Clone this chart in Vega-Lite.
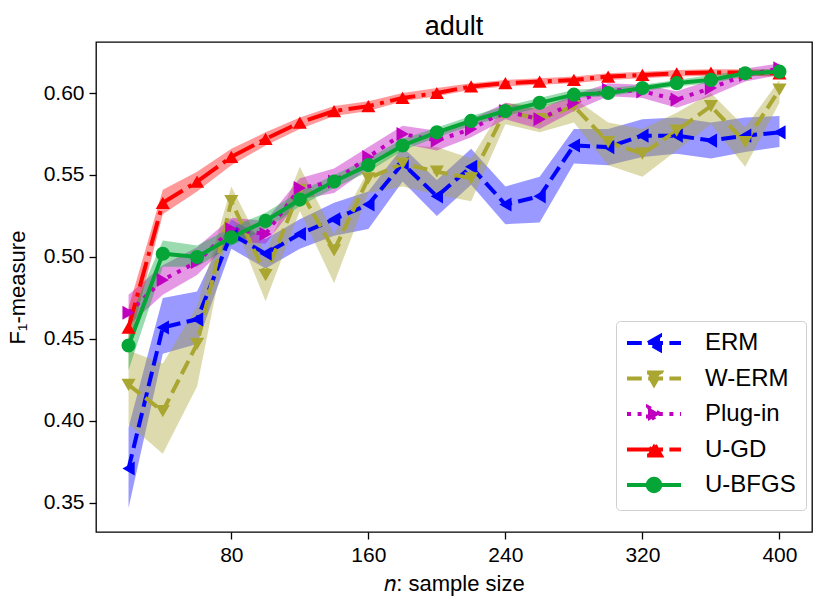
{
  "$schema": "https://vega.github.io/schema/vega-lite/v6.json",
  "width": 716,
  "height": 490,
  "autosize": {"type": "none"},
  "padding": {"left": 96, "top": 42, "right": 19, "bottom": 75},
  "title": {"text": "adult", "fontSize": 27, "font": "Liberation Sans", "fontWeight": "normal", "anchor": "middle", "offset": 1, "color": "black"},
  "data": {"values": [
    {"method": "ERM", "n": 20, "mean": 0.371, "lo": 0.347, "hi": 0.396},
    {"method": "ERM", "n": 40, "mean": 0.457, "lo": 0.441, "hi": 0.475},
    {"method": "ERM", "n": 60, "mean": 0.462, "lo": 0.447, "hi": 0.479},
    {"method": "ERM", "n": 80, "mean": 0.514, "lo": 0.505, "hi": 0.523},
    {"method": "ERM", "n": 100, "mean": 0.502, "lo": 0.493, "hi": 0.511},
    {"method": "ERM", "n": 120, "mean": 0.514, "lo": 0.505, "hi": 0.523},
    {"method": "ERM", "n": 140, "mean": 0.523, "lo": 0.513, "hi": 0.533},
    {"method": "ERM", "n": 160, "mean": 0.532, "lo": 0.517, "hi": 0.540},
    {"method": "ERM", "n": 180, "mean": 0.557, "lo": 0.546, "hi": 0.567},
    {"method": "ERM", "n": 200, "mean": 0.537, "lo": 0.525, "hi": 0.547},
    {"method": "ERM", "n": 220, "mean": 0.555, "lo": 0.544, "hi": 0.566},
    {"method": "ERM", "n": 240, "mean": 0.532, "lo": 0.520, "hi": 0.543},
    {"method": "ERM", "n": 260, "mean": 0.537, "lo": 0.521, "hi": 0.549},
    {"method": "ERM", "n": 280, "mean": 0.568, "lo": 0.557, "hi": 0.578},
    {"method": "ERM", "n": 300, "mean": 0.567, "lo": 0.556, "hi": 0.578},
    {"method": "ERM", "n": 320, "mean": 0.574, "lo": 0.561, "hi": 0.584},
    {"method": "ERM", "n": 340, "mean": 0.574, "lo": 0.563, "hi": 0.585},
    {"method": "ERM", "n": 360, "mean": 0.571, "lo": 0.560, "hi": 0.582},
    {"method": "ERM", "n": 380, "mean": 0.574, "lo": 0.564, "hi": 0.585},
    {"method": "ERM", "n": 400, "mean": 0.576, "lo": 0.567, "hi": 0.586},
    {"method": "W-ERM", "n": 20, "mean": 0.422, "lo": 0.398, "hi": 0.443},
    {"method": "W-ERM", "n": 40, "mean": 0.406, "lo": 0.380, "hi": 0.435},
    {"method": "W-ERM", "n": 60, "mean": 0.447, "lo": 0.421, "hi": 0.470},
    {"method": "W-ERM", "n": 80, "mean": 0.534, "lo": 0.525, "hi": 0.543},
    {"method": "W-ERM", "n": 100, "mean": 0.489, "lo": 0.473, "hi": 0.502},
    {"method": "W-ERM", "n": 120, "mean": 0.541, "lo": 0.528, "hi": 0.555},
    {"method": "W-ERM", "n": 140, "mean": 0.504, "lo": 0.484, "hi": 0.514},
    {"method": "W-ERM", "n": 160, "mean": 0.548, "lo": 0.539, "hi": 0.553},
    {"method": "W-ERM", "n": 180, "mean": 0.557, "lo": 0.543, "hi": 0.568},
    {"method": "W-ERM", "n": 200, "mean": 0.552, "lo": 0.538, "hi": 0.567},
    {"method": "W-ERM", "n": 220, "mean": 0.548, "lo": 0.534, "hi": 0.560},
    {"method": "W-ERM", "n": 240, "mean": 0.589, "lo": 0.581, "hi": 0.594},
    {"method": "W-ERM", "n": 260, "mean": 0.584, "lo": 0.576, "hi": 0.592},
    {"method": "W-ERM", "n": 280, "mean": 0.592, "lo": 0.582, "hi": 0.597},
    {"method": "W-ERM", "n": 300, "mean": 0.570, "lo": 0.556, "hi": 0.582},
    {"method": "W-ERM", "n": 320, "mean": 0.563, "lo": 0.549, "hi": 0.578},
    {"method": "W-ERM", "n": 340, "mean": 0.577, "lo": 0.565, "hi": 0.588},
    {"method": "W-ERM", "n": 360, "mean": 0.592, "lo": 0.581, "hi": 0.600},
    {"method": "W-ERM", "n": 380, "mean": 0.570, "lo": 0.555, "hi": 0.579},
    {"method": "W-ERM", "n": 400, "mean": 0.602, "lo": 0.594, "hi": 0.608},
    {"method": "Plug-in", "n": 20, "mean": 0.466, "lo": 0.458, "hi": 0.477},
    {"method": "Plug-in", "n": 40, "mean": 0.486, "lo": 0.477, "hi": 0.495},
    {"method": "Plug-in", "n": 60, "mean": 0.497, "lo": 0.489, "hi": 0.506},
    {"method": "Plug-in", "n": 80, "mean": 0.517, "lo": 0.510, "hi": 0.524},
    {"method": "Plug-in", "n": 100, "mean": 0.514, "lo": 0.508, "hi": 0.522},
    {"method": "Plug-in", "n": 120, "mean": 0.542, "lo": 0.535, "hi": 0.548},
    {"method": "Plug-in", "n": 140, "mean": 0.546, "lo": 0.539, "hi": 0.554},
    {"method": "Plug-in", "n": 160, "mean": 0.561, "lo": 0.554, "hi": 0.567},
    {"method": "Plug-in", "n": 180, "mean": 0.575, "lo": 0.569, "hi": 0.580},
    {"method": "Plug-in", "n": 200, "mean": 0.571, "lo": 0.565, "hi": 0.577},
    {"method": "Plug-in", "n": 220, "mean": 0.578, "lo": 0.573, "hi": 0.584},
    {"method": "Plug-in", "n": 240, "mean": 0.589, "lo": 0.584, "hi": 0.594},
    {"method": "Plug-in", "n": 260, "mean": 0.584, "lo": 0.578, "hi": 0.590},
    {"method": "Plug-in", "n": 280, "mean": 0.594, "lo": 0.589, "hi": 0.599},
    {"method": "Plug-in", "n": 300, "mean": 0.602, "lo": 0.598, "hi": 0.606},
    {"method": "Plug-in", "n": 320, "mean": 0.601, "lo": 0.597, "hi": 0.605},
    {"method": "Plug-in", "n": 340, "mean": 0.596, "lo": 0.591, "hi": 0.601},
    {"method": "Plug-in", "n": 360, "mean": 0.603, "lo": 0.598, "hi": 0.608},
    {"method": "Plug-in", "n": 380, "mean": 0.611, "lo": 0.607, "hi": 0.615},
    {"method": "Plug-in", "n": 400, "mean": 0.615, "lo": 0.611, "hi": 0.618},
    {"method": "U-GD", "n": 20, "mean": 0.457, "lo": 0.445, "hi": 0.469},
    {"method": "U-GD", "n": 40, "mean": 0.533, "lo": 0.526, "hi": 0.541},
    {"method": "U-GD", "n": 60, "mean": 0.546, "lo": 0.540, "hi": 0.552},
    {"method": "U-GD", "n": 80, "mean": 0.561, "lo": 0.556, "hi": 0.566},
    {"method": "U-GD", "n": 100, "mean": 0.572, "lo": 0.568, "hi": 0.576},
    {"method": "U-GD", "n": 120, "mean": 0.582, "lo": 0.578, "hi": 0.585},
    {"method": "U-GD", "n": 140, "mean": 0.589, "lo": 0.586, "hi": 0.592},
    {"method": "U-GD", "n": 160, "mean": 0.592, "lo": 0.589, "hi": 0.595},
    {"method": "U-GD", "n": 180, "mean": 0.597, "lo": 0.595, "hi": 0.600},
    {"method": "U-GD", "n": 200, "mean": 0.600, "lo": 0.598, "hi": 0.603},
    {"method": "U-GD", "n": 220, "mean": 0.604, "lo": 0.602, "hi": 0.606},
    {"method": "U-GD", "n": 240, "mean": 0.606, "lo": 0.604, "hi": 0.608},
    {"method": "U-GD", "n": 260, "mean": 0.607, "lo": 0.605, "hi": 0.609},
    {"method": "U-GD", "n": 280, "mean": 0.608, "lo": 0.606, "hi": 0.610},
    {"method": "U-GD", "n": 300, "mean": 0.610, "lo": 0.608, "hi": 0.612},
    {"method": "U-GD", "n": 320, "mean": 0.611, "lo": 0.609, "hi": 0.613},
    {"method": "U-GD", "n": 340, "mean": 0.612, "lo": 0.610, "hi": 0.614},
    {"method": "U-GD", "n": 360, "mean": 0.6125, "lo": 0.6105, "hi": 0.6145},
    {"method": "U-GD", "n": 380, "mean": 0.6125, "lo": 0.6105, "hi": 0.6145},
    {"method": "U-GD", "n": 400, "mean": 0.612, "lo": 0.610, "hi": 0.614},
    {"method": "U-BFGS", "n": 20, "mean": 0.446, "lo": 0.431, "hi": 0.461},
    {"method": "U-BFGS", "n": 40, "mean": 0.502, "lo": 0.494, "hi": 0.510},
    {"method": "U-BFGS", "n": 60, "mean": 0.500, "lo": 0.494, "hi": 0.507},
    {"method": "U-BFGS", "n": 80, "mean": 0.512, "lo": 0.507, "hi": 0.518},
    {"method": "U-BFGS", "n": 100, "mean": 0.522, "lo": 0.517, "hi": 0.527},
    {"method": "U-BFGS", "n": 120, "mean": 0.535, "lo": 0.531, "hi": 0.540},
    {"method": "U-BFGS", "n": 140, "mean": 0.546, "lo": 0.542, "hi": 0.550},
    {"method": "U-BFGS", "n": 160, "mean": 0.556, "lo": 0.552, "hi": 0.560},
    {"method": "U-BFGS", "n": 180, "mean": 0.568, "lo": 0.565, "hi": 0.572},
    {"method": "U-BFGS", "n": 200, "mean": 0.576, "lo": 0.573, "hi": 0.579},
    {"method": "U-BFGS", "n": 220, "mean": 0.583, "lo": 0.580, "hi": 0.586},
    {"method": "U-BFGS", "n": 240, "mean": 0.589, "lo": 0.586, "hi": 0.592},
    {"method": "U-BFGS", "n": 260, "mean": 0.594, "lo": 0.591, "hi": 0.597},
    {"method": "U-BFGS", "n": 280, "mean": 0.599, "lo": 0.597, "hi": 0.602},
    {"method": "U-BFGS", "n": 300, "mean": 0.600, "lo": 0.598, "hi": 0.603},
    {"method": "U-BFGS", "n": 320, "mean": 0.603, "lo": 0.601, "hi": 0.605},
    {"method": "U-BFGS", "n": 340, "mean": 0.606, "lo": 0.604, "hi": 0.608},
    {"method": "U-BFGS", "n": 360, "mean": 0.608, "lo": 0.606, "hi": 0.611},
    {"method": "U-BFGS", "n": 380, "mean": 0.612, "lo": 0.610, "hi": 0.614},
    {"method": "U-BFGS", "n": 400, "mean": 0.613, "lo": 0.611, "hi": 0.615}
  ]},
  "encoding": {
    "x": {"field": "n", "type": "quantitative", "scale": {"domain": [1, 419], "nice": false, "zero": false},
          "axis": {"values": [80, 160, 240, 320, 400], "title": "𝑛: sample size"}}
  },
  "layer": [
    {
      "mark": {"type": "area", "fillOpacity": 0.4, "strokeWidth": 0},
      "encoding": {
        "y": {"field": "lo", "type": "quantitative", "title": "F₁-measure",
              "scale": {"domain": [0.3323, 0.6311], "nice": false, "zero": false},
              "axis": {"values": [0.35, 0.40, 0.45, 0.50, 0.55, 0.60], "format": ".2f"}},
        "y2": {"field": "hi"},
        "fill": {"field": "method", "type": "nominal", "legend": null,
                 "scale": {"domain": ["U-BFGS", "U-GD", "Plug-in", "W-ERM", "ERM"], "range": ["#05a538", "#ff0000", "#bf00bf", "#aaa632", "#0000ff"]}}
      }
    },
    {
      "mark": {"type": "line", "strokeWidth": 4},
      "encoding": {
        "y": {"field": "mean", "type": "quantitative", "title": "F₁-measure",
              "scale": {"domain": [0.3323, 0.6311], "nice": false, "zero": false},
              "axis": {"values": [0.35, 0.40, 0.45, 0.50, 0.55, 0.60], "format": ".2f"}},
        "strokeDash": {"field": "method", "type": "nominal", "legend": null,
                       "scale": {"domain": ["U-BFGS", "U-GD", "Plug-in", "W-ERM", "ERM"], "range": [[60, 0], [25.6, 6.4, 4, 6.4], [4, 6.6], [14.8, 6.4], [14.8, 6.4]]}},
        "color": {"field": "method", "type": "nominal",
                  "scale": {"domain": ["ERM", "W-ERM", "Plug-in", "U-GD", "U-BFGS"], "range": ["#0000ff", "#aaa632", "#bf00bf", "#ff0000", "#05a538"]},
                  "legend": {
                    "title": null, "orient": "none", "legendX": 520, "legendY": 279,
                    "padding": 10, "symbolSize": 144, "symbolOffset": 16, "labelOffset": 39,
                    "labelFontSize": 24, "labelFont": "Liberation Sans", "labelColor": "black",
                    "rowPadding": 6.5, "strokeColor": "#d0d0d0", "fillColor": "rgba(255,255,255,0.8)",
                    "cornerRadius": 4, "symbolStrokeWidth": 4,
                    "encode": {"symbols": {"update": {
                      "shape": {"signal": "datum.value === 'ERM' ? 'M-4.5,0H4.5M-1,0L1,-1.15L1,1.15Z' : datum.value === 'W-ERM' ? 'M-4.5,0H4.5M-1.15,-1L1.15,-1L0,1Z' : datum.value === 'Plug-in' ? 'M-4.5,0H4.5M1,0L-1,-1.15L-1,1.15Z' : datum.value === 'U-GD' ? 'M-4.5,0H4.5M-1.15,1L1.15,1L0,-1Z' : 'M-4.5,0H4.5M-1.05,0A1.05,1.05,0,1,1,1.05,0A1.05,1.05,0,1,1,-1.05,0Z'"},
                      "strokeDash": {"signal": "datum.value === 'ERM' || datum.value === 'W-ERM' ? [14.8, 6.4] : datum.value === 'Plug-in' ? [4, 6.6] : datum.value === 'U-GD' ? [25.6, 6.4, 4, 6.4] : [60, 0]"},
                      "fill": {"scale": "color", "field": "value"},
                      "stroke": {"scale": "color", "field": "value"},
                      "strokeWidth": {"value": 4},
                      "opacity": {"value": 1}
                    }}}
                  }}
      }
    },
    {
      "mark": {"type": "point", "filled": true, "size": 200, "opacity": 1, "strokeWidth": 0},
      "encoding": {
        "y": {"field": "mean", "type": "quantitative", "title": "F₁-measure",
              "scale": {"domain": [0.3323, 0.6311], "nice": false, "zero": false},
              "axis": {"values": [0.35, 0.40, 0.45, 0.50, 0.55, 0.60], "format": ".2f"}},
        "fill": {"field": "method", "type": "nominal", "legend": null,
                 "scale": {"domain": ["U-BFGS", "U-GD", "Plug-in", "W-ERM", "ERM"], "range": ["#05a538", "#ff0000", "#bf00bf", "#aaa632", "#0000ff"]}},
        "shape": {"field": "method", "type": "nominal", "legend": null,
                  "scale": {"domain": ["U-BFGS", "U-GD", "Plug-in", "W-ERM", "ERM"], "range": ["circle", "triangle-up", "triangle-right", "triangle-down", "triangle-left"]}}
      }
    }
  ],
  "config": {
    "font": "Liberation Sans",
    "view": {"stroke": "black", "strokeWidth": 1.3},
    "axis": {"grid": false, "domain": false, "tickColor": "black", "tickSize": 7, "tickWidth": 1.3,
             "labelColor": "black", "labelFontSize": 21, "labelFont": "Liberation Sans",
             "titleFont": "Liberation Sans", "titleFontSize": 22, "titleFontWeight": "normal", "titleColor": "black", "labelPadding": 5},
    "axisX": {"titlePadding": 8},
    "axisY": {"titlePadding": 14}
  }
}
